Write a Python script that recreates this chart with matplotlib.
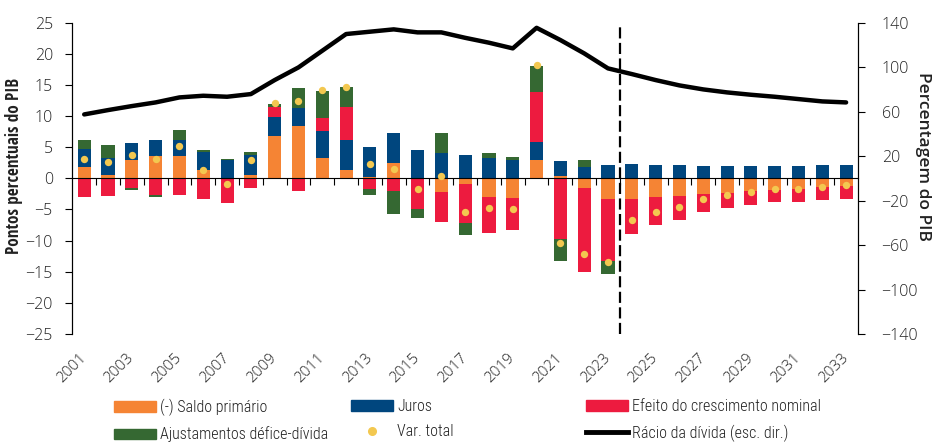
import numpy as np
import matplotlib
matplotlib.use('Agg')
import matplotlib.pyplot as plt
from matplotlib.patches import Patch
from matplotlib.lines import Line2D

plt.rcParams['font.family'] = ['Open Sans', 'DejaVu Sans']

# Data (pp of GDP, right axis in % of GDP)
years = list(range(2001, 2034))
saldo_primario = [1.8, 0.5, 2.9, 3.6, 3.6, 1.3, 0.0, 0.5, 6.8, 8.4, 3.3, 1.3,
                  0.2, 2.5, 0.0, -2.2, -0.9, -3.0, -3.2, 2.9, 0.4, -1.5, -3.3,
                  -3.3, -3.0, -2.8, -2.5, -2.35, -2.0, -1.9, -1.7, -1.4, -1.2]
juros = [2.9, 2.8, 2.7, 2.6, 2.6, 2.9, 2.9, 3.2, 3.0, 2.9, 4.3, 4.8,
         4.8, 4.8, 4.5, 4.1, 3.7, 3.3, 2.9, 2.9, 2.4, 1.8, 2.1,
         2.3, 2.1, 2.1, 2.0, 2.0, 2.0, 2.0, 2.0, 2.1, 2.1]
efeito_crescimento = [-3.0, -2.8, -1.6, -2.7, -2.7, -3.3, -4.0, -1.5, 1.6, -2.0, 2.1, 5.3,
                      -1.7, -2.0, -5.0, -4.8, -6.25, -5.8, -5.1, 8.0, -9.7, -13.6, -9.9,
                      -5.6, -4.5, -3.85, -2.9, -2.4, -2.25, -1.9, -2.1, -2.1, -2.1]
ajustamentos = [1.4, 2.0, -0.3, -0.3, 1.6, 0.4, 0.2, 0.6, 0.6, 3.2, 4.4, 3.2,
                -1.0, -3.8, -1.3, 3.2, -1.9, 0.8, 0.5, 4.3, -3.5, 1.1, -2.2,
                0, 0, 0, 0, 0, 0, 0, 0, 0, 0]
var_total = [3.1, 2.6, 3.7, 3.1, 5.2, 1.3, -0.9, 2.9, 12.1, 12.4, 14.2, 14.6,
             2.3, 1.5, -1.7, 0.4, -5.4, -4.75, -4.9, 18.2, -10.4, -12.1, -13.4,
             -6.7, -5.4, -4.6, -3.3, -2.7, -2.2, -1.7, -1.7, -1.4, -1.1]
racio_divida = [57.5, 61.4, 65.0, 68.3, 72.8, 74.3, 73.4, 75.8, 88.4, 99.8, 114.8, 129.8,
                131.9, 134.0, 131.3, 131.3, 126.4, 122.0, 116.9, 135.4, 124.4, 112.4, 98.9,
                93.8, 88.4, 83.6, 80.0, 77.3, 75.2, 73.4, 71.3, 69.2, 68.3]

labels = ['(-) Saldo primário', 'Juros', 'Efeito do crescimento nominal',
          'Ajustamentos défice-dívida', 'Var. total', 'Rácio da dívida (esc. dir.)']
cores = ['#F58434', '#00467E', '#ED1B3F', '#356832']
cor_ponto = '#F3C850'
cor_texto = '#222222'
condensada_bold = ['Open Sans Condensed', 'Open Sans', 'DejaVu Sans']
condensada_light = ['Roboto Condensed', 'Fira Sans Condensed', 'Open Sans', 'DejaVu Sans']

fig = plt.figure(figsize=(9.43, 4.48), dpi=100)
ax = fig.add_axes([72.3 / 943, (448 - 334) / 448, (858 - 72.3) / 943, (334 - 22.7) / 448])

x = np.array(years)
pos = np.zeros(len(years))
neg = np.zeros(len(years))
for serie, cor in zip([saldo_primario, juros, efeito_crescimento, ajustamentos], cores):
    v = np.array(serie, dtype=float)
    base = np.where(v >= 0, pos, neg)
    ax.bar(x, v, bottom=base, width=0.55, color=cor, zorder=2)
    pos = pos + np.where(v > 0, v, 0)
    neg = neg + np.where(v < 0, v, 0)

ax.scatter(x, var_total, s=28, color=cor_ponto, zorder=4, linewidths=0)
ax.axvline(2023.5, color='black', lw=1.6, ls=(0, (5, 2)), zorder=3)

ax.set_xlim(2000.5, 2033.5)
ax.set_ylim(-25, 25)
ax.set_yticks(range(-25, 30, 5))
ax.spines['top'].set_visible(False)
ax.spines['bottom'].set_position(('data', 0))
ax.spines['bottom'].set_zorder(3)
ax.set_xticks(np.arange(2001.5, 2033, 1))
ax.set_xticklabels([])
ax.tick_params(axis='x', direction='out', length=5, width=0.8)
ax.tick_params(axis='y', direction='out', length=5, width=0.8, pad=9,
               labelsize=11.5, labelcolor=cor_texto)
for t in ax.get_yticklabels():
    t.set_fontweight(300)
ax.set_ylabel('Pontos percentuais do PIB', fontsize=12.3, fontweight='bold',
              family=condensada_bold, color=cor_texto)
ax.yaxis.set_label_coords(-0.063, 0.54)

sec = ax.secondary_xaxis(0)
sec.set_xticks(years[::2])
sec.set_xticklabels([str(a) for a in years[::2]], rotation=45, ha='right',
                    va='center', rotation_mode='anchor', fontsize=11,
                    fontweight=300, color=cor_texto)
sec.tick_params(axis='x', length=0, pad=16)
sec.spines['bottom'].set_visible(False)

ax2 = ax.twinx()
ax2.plot(x, racio_divida, color='black', lw=3.2, zorder=5, solid_capstyle='round')
ax2.set_ylim(-140, 140)
ax2.set_yticks(range(-140, 141, 40))
ax2.spines['top'].set_visible(False)
ax2.spines['bottom'].set_visible(False)
ax2.tick_params(axis='y', direction='out', length=5, width=0.8, pad=12,
                labelsize=11.5, labelcolor=cor_texto)
for t in ax2.get_yticklabels():
    t.set_fontweight(300)
ax2.set_ylabel('Percentagem do PIB', fontsize=12.5, fontweight='semibold',
               color=cor_texto, rotation=270, va='bottom')
ax2.yaxis.set_label_coords(1.073, 0.57)

handles = [Patch(color=cores[0]), Patch(color=cores[1]), Patch(color=cores[2]),
           Patch(color=cores[3]),
           Line2D([], [], ls='none', marker='o', markersize=5.5, color=cor_ponto),
           Line2D([], [], color='black', lw=3.5)]
colunas = [(0, 3), (1, 4), (2, 5)]
lefts = [114, 351, 586]
for (i, j), left in zip(colunas, lefts):
    leg = fig.legend([handles[i], handles[j]], [labels[i], labels[j]],
                     loc='upper left', bbox_to_anchor=(left / 943, 1 - 399 / 448),
                     ncol=1, frameon=False, borderpad=0, borderaxespad=0,
                     handlelength=2.6, handleheight=0.65, handletextpad=0.3,
                     labelspacing=0.65,
                     prop={'family': condensada_light, 'size': 11.5, 'weight': 300})
    for t in leg.get_texts():
        t.set_color(cor_texto)

fig.savefig('out.png', dpi=100)
